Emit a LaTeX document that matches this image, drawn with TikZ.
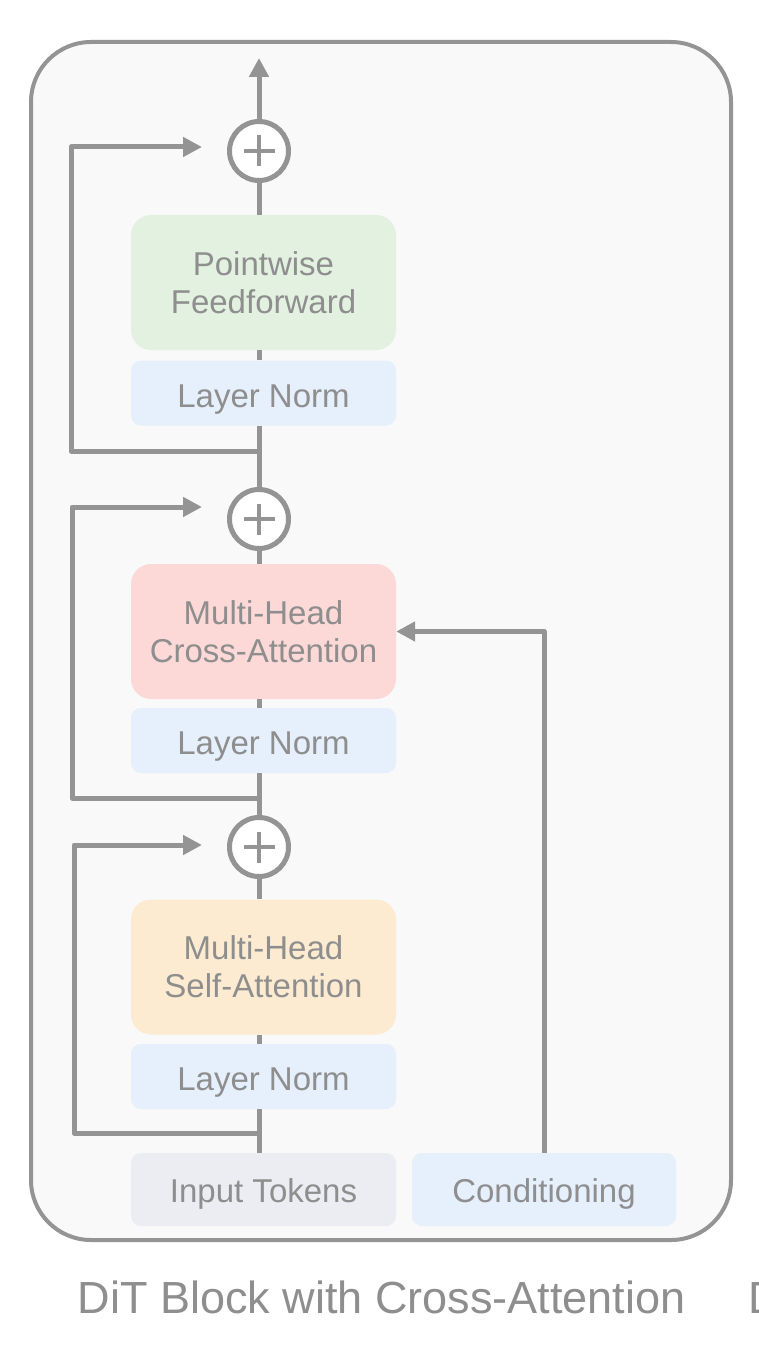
\documentclass[tikz,border=0pt]{standalone}
\usepackage{fontspec}
\setmainfont{Liberation Sans}
\usetikzlibrary{arrows.meta}
\definecolor{ln}{HTML}{949494}
\definecolor{tx}{HTML}{8E8E8E}
\definecolor{bgc}{HTML}{F9F9F9}
\definecolor{ffc}{HTML}{E3F1E1}
\definecolor{cac}{HTML}{FCD8D7}
\definecolor{sac}{HTML}{FCEBD1}
\definecolor{lnc}{HTML}{E6EFFC}
\definecolor{tkc}{HTML}{ECEDF2}
\tikzset{
  box/.style={rectangle, inner sep=0pt, minimum width=265pt, align=center,
    font=\fontsize{33}{38}\selectfont, text=tx},
  bigbox/.style={box, minimum height=135pt, rounded corners=20pt},
  smallbox/.style={box, minimum height=65pt, rounded corners=10pt, text height=28pt, text depth=0pt},
  inbox/.style={box, minimum height=73pt, rounded corners=10pt, text height=26pt, text depth=0pt},
  plusnode/.style={circle, draw=ln, line width=5pt, fill=white, minimum size=59pt, inner sep=0pt},
  conn/.style={draw=ln, line width=5pt},
  arr/.style={conn, line join=round, -{Triangle[length=19pt,width=19pt]}},
}
\begin{document}
\begin{tikzpicture}[x=1pt,y=-1pt]
\useasboundingbox (0,0) rectangle (758,1348);
\fill[white] (0,0) rectangle (758,1348);
\draw[line width=4pt, draw=ln, fill=bgc, rounded corners=60pt] (31,42) rectangle (731,1240);

\coordinate (m) at (259,0);
% boxes
\node[bigbox, fill=ffc] (ff) at (263.5,282.5) {Pointwise\\Feedforward};
\node[smallbox, fill=lnc] (ln1) at (263.5,393) {Layer Norm};
\node[bigbox, fill=cac] (ca) at (263.5,631.5) {Multi-Head\\Cross-Attention};
\node[smallbox, fill=lnc] (ln2) at (263.5,740.5) {Layer Norm};
\node[bigbox, fill=sac] (sa) at (263.5,967) {Multi-Head\\Self-Attention};
\node[smallbox, fill=lnc] (ln3) at (263.5,1076.5) {Layer Norm};
\node[inbox, fill=tkc] (tok) at (263.5,1189.5) {Input Tokens};
\node[inbox, minimum width=264pt, fill=lnc] (cond) at (544,1189.5) {Conditioning};

% plus nodes
\node[plusnode] (p1) at (259,151) {};
\node[plusnode] (p2) at (259,519) {};
\node[plusnode] (p3) at (259,847) {};
\foreach \p in {p1,p2,p3}{
  \draw[ln, line width=4pt] (\p.center) ++(-15.5,0) -- ++(31,0);
  \draw[ln, line width=4pt] (\p.center) ++(0,-15.5) -- ++(0,31);
}

% main path
\coordinate (out) at (259,58);
\draw[conn] (tok.north -| m) -- (ln3.south -| m);
\draw[conn] (ln3.north -| m) -- (sa.south -| m);
\draw[conn] (sa.north -| m) -- (p3.south);
\draw[conn] (p3.north) -- (ln2.south -| m);
\draw[conn] (ln2.north -| m) -- (ca.south -| m);
\draw[conn] (ca.north -| m) -- (p2.south);
\draw[conn] (p2.north) -- (ln1.south -| m);
\draw[conn] (ln1.north -| m) -- (ff.south -| m);
\draw[conn] (ff.north -| m) -- (p1.south);
\draw[arr] (p1.north) -- (out);

% residuals
\coordinate (r1) at (259,451); \coordinate (l1) at (71,147); \coordinate (a1) at (202,147);
\coordinate (r2) at (259,798); \coordinate (l2) at (72,507); \coordinate (a2) at (202,507);
\coordinate (r3) at (259,1133); \coordinate (l3) at (74,845); \coordinate (a3) at (202,845);
\draw[arr] (r1) -| (l1) -- (a1);
\draw[arr] (r2) -| (l2) -- (a2);
\draw[arr] (r3) -| (l3) -- (a3);

% conditioning
\draw[arr] (cond.north) |- (ca.east);

% caption
\node[anchor=base, inner sep=0pt, font=\fontsize{45}{54}\selectfont, text=tx] (cap) at (381.5,1313) {DiT Block with Cross-Attention};
\node[anchor=base west, inner sep=0pt, font=\fontsize{45}{54}\selectfont, text=tx] (cut) at (748.5,1313) {D};
\end{tikzpicture}
\end{document}
